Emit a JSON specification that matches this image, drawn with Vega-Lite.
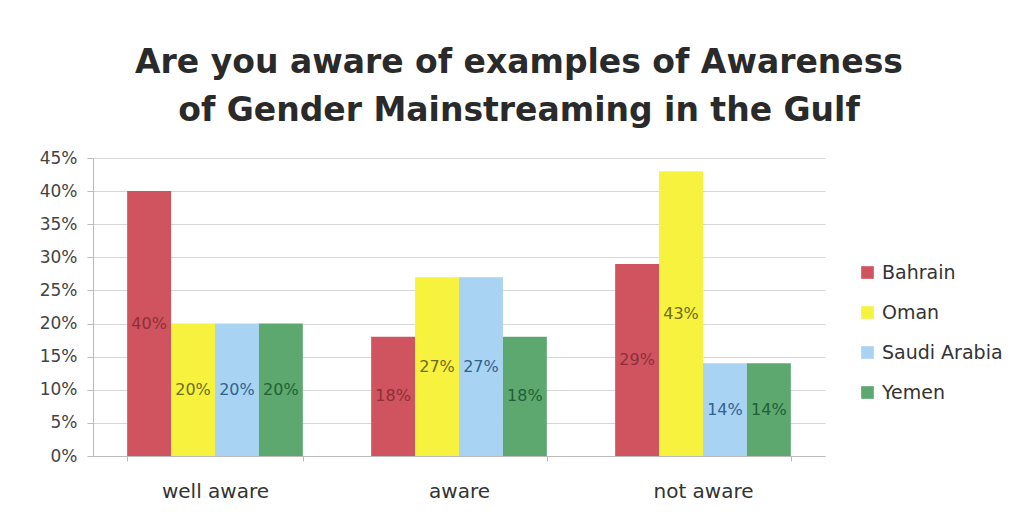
{
  "$schema": "https://vega.github.io/schema/vega-lite/v6.json",
  "autosize": "none",
  "width": 732,
  "height": 298,
  "padding": {"left": 93, "top": 158, "right": 201, "bottom": 71},
  "background": "white",
  "title": {
    "text": ["Are you aware of examples of Awareness", "of Gender Mainstreaming  in the Gulf"],
    "font": "DejaVu Sans",
    "fontSize": 33,
    "fontWeight": "bold",
    "color": "#2a2a2a",
    "anchor": "middle",
    "dx": 60,
    "lineHeight": 48,
    "offset": 21
  },
  "data": {
    "values": [
      {"category": "well aware", "country": "Bahrain", "value": 0.40},
      {"category": "well aware", "country": "Oman", "value": 0.20},
      {"category": "well aware", "country": "Saudi Arabia", "value": 0.20},
      {"category": "well aware", "country": "Yemen", "value": 0.20},
      {"category": "aware", "country": "Bahrain", "value": 0.18},
      {"category": "aware", "country": "Oman", "value": 0.27},
      {"category": "aware", "country": "Saudi Arabia", "value": 0.27},
      {"category": "aware", "country": "Yemen", "value": 0.18},
      {"category": "not aware", "country": "Bahrain", "value": 0.29},
      {"category": "not aware", "country": "Oman", "value": 0.43},
      {"category": "not aware", "country": "Saudi Arabia", "value": 0.14},
      {"category": "not aware", "country": "Yemen", "value": 0.14}
    ]
  },
  "encoding": {
    "x": {
      "field": "category",
      "type": "nominal",
      "sort": ["well aware", "aware", "not aware"],
      "scale": {"paddingInner": 0.28, "paddingOuter": 0.14},
      "axis": {
        "title": null,
        "labelAngle": 0,
        "labelFont": "DejaVu Sans",
        "labelFontSize": 20,
        "labelColor": "#333333",
        "labelPadding": 20,
        "domainColor": "#bbbbbb",
        "tickColor": "#bbbbbb",
        "tickSize": 5,
        "tickBand": "extent",
        "grid": false
      }
    },
    "xOffset": {
      "field": "country",
      "type": "nominal",
      "sort": ["Bahrain", "Oman", "Saudi Arabia", "Yemen"],
      "scale": {"paddingInner": 0, "paddingOuter": 0}
    }
  },
  "layer": [
    {
      "mark": {"type": "bar"},
      "encoding": {
        "y": {
          "field": "value",
          "type": "quantitative",
          "scale": {"domain": [0, 0.45], "nice": false},
          "axis": {
            "title": null,
            "format": ".0%",
            "values": [0, 0.05, 0.1, 0.15, 0.2, 0.25, 0.3, 0.35, 0.4, 0.45],
            "labelOverlap": false,
            "labelFont": "DejaVu Sans",
            "labelFontSize": 17,
            "labelColor": "#444444",
            "labelPadding": 10,
            "domainColor": "#bbbbbb",
            "tickColor": "#bbbbbb",
            "tickSize": 6,
            "gridColor": "#d6d6d6",
            "gridWidth": 1
          }
        },
        "color": {
          "field": "country",
          "type": "nominal",
          "sort": ["Bahrain", "Oman", "Saudi Arabia", "Yemen"],
          "scale": {
            "domain": ["Bahrain", "Oman", "Saudi Arabia", "Yemen"],
            "range": ["#cf5460", "#f6f23e", "#a9d3f3", "#5ca86f"]
          },
          "legend": {
            "title": null,
            "orient": "none",
            "legendX": 765,
            "legendY": 105,
            "symbolType": "square",
            "symbolSize": 160,
            "symbolStrokeWidth": 0,
            "labelFont": "DejaVu Sans",
            "labelFontSize": 19,
            "labelColor": "#333333",
            "rowPadding": 20,
            "labelOffset": 5
          }
        }
      }
    },
    {
      "transform": [{"calculate": "datum.value / 2", "as": "mid"}],
      "mark": {"type": "text", "font": "DejaVu Sans", "fontSize": 16, "baseline": "middle"},
      "encoding": {
        "y": {
          "field": "mid",
          "type": "quantitative",
          "axis": {
            "title": null,
            "format": ".0%",
            "values": [0, 0.05, 0.1, 0.15, 0.2, 0.25, 0.3, 0.35, 0.4, 0.45],
            "labelOverlap": false,
            "labelFont": "DejaVu Sans",
            "labelFontSize": 17,
            "labelColor": "#444444",
            "labelPadding": 10,
            "domainColor": "#bbbbbb",
            "tickColor": "#bbbbbb",
            "tickSize": 6,
            "gridColor": "#d6d6d6",
            "gridWidth": 1
          }
        },
        "text": {"field": "value", "type": "quantitative", "format": ".0%"},
        "color": {
          "field": "country",
          "type": "nominal",
          "scale": {
            "domain": ["Bahrain", "Oman", "Saudi Arabia", "Yemen"],
            "range": ["#8e2f37", "#6e6c1c", "#2f628f", "#215f36"]
          },
          "legend": null
        }
      }
    }
  ],
  "resolve": {"scale": {"color": "independent"}},
  "config": {"view": {"stroke": null}}
}
